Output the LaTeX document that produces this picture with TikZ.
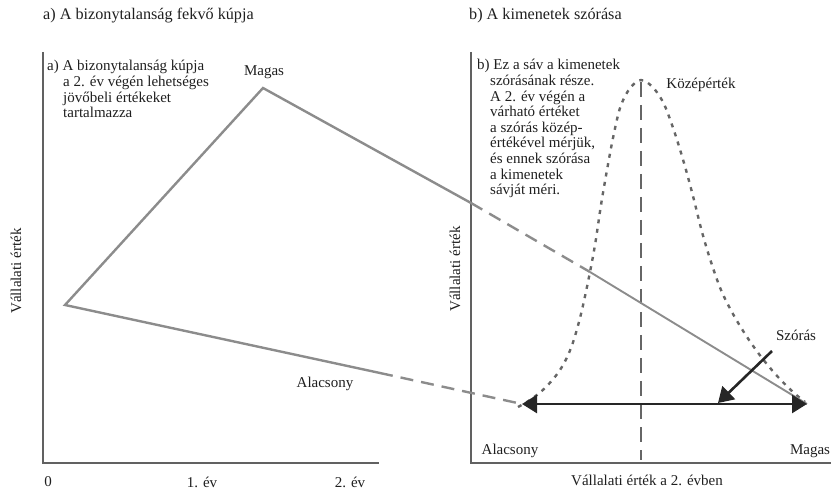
\documentclass[tikz,border=0pt]{standalone}
\usepackage{fontspec}
\setmainfont{Liberation Serif}
\usetikzlibrary{arrows.meta}
\begin{document}
\begin{tikzpicture}[x=1pt,y=-1pt,
  txt/.style={inner sep=0pt, font=\fontsize{15}{15.6}\selectfont, text=black!88},
  ttl/.style={txt, font=\fontsize{16.2}{18}\selectfont},
  axisline/.style={draw=black!62, line width=2.8pt, line join=miter},
  cone/.style={draw=black!45, line width=2.4pt},
  conethin/.style={draw=black!45, line width=1.9pt},
  conedash/.style={cone, dash pattern=on 13pt off 8pt},
  bell/.style={draw=black!60, line width=2.4pt, dash pattern=on 4pt off 5.5pt},
  meanline/.style={draw=black!60, line width=1.6pt, dash pattern=on 15pt off 8pt},
  spread/.style={draw=black!85, line width=2.6pt},
  tip/.style={-{Triangle[length=15pt,width=18pt]}},
  dtip/.style={{Triangle[length=15pt,width=18pt]}-{Triangle[length=15pt,width=18pt]}},
]
\useasboundingbox (0,0) rectangle (831,489);

% titles
\node[ttl, anchor=west] (titlea) at (43,16) {a) A bizonytalanság fekvő kúpja};
\node[ttl, anchor=west] (titleb) at (469,16) {b) A kimenetek szórása};

% axes
\coordinate (lat) at (43,52); \coordinate (lo) at (43,463); \coordinate (lr) at (379,463);
\coordinate (rat) at (471,52); \coordinate (ro) at (471,463); \coordinate (rr) at (831,463);
\draw[axisline] (lat) -- (lo) -- (lr);
\draw[axisline] (rat) -- (ro) -- (rr);

% bell curve and mean line
\draw[bell] plot[smooth, tension=0.55] coordinates {
  (518,407) (530,400) (545,388) (560,370) (571,348) (580,318) (588,282)
  (595,245) (601,205) (607,170) (613,138) (620,108) (628,91) (635,83) (641,80)
  (648,83) (656,91) (664,104) (671,122) (678,143) (686,170) (694,200)
  (702,232) (711,262) (721,290) (733,314) (747,337) (762,358) (778,377)
  (793,392) (805,402)};
\coordinate (peak) at (641,82); \coordinate (meanbot) at (641,460);
\draw[meanline] (peak) -- (meanbot);

% cone
\coordinate (apexL) at (65,305);
\coordinate (top) at (263,88);
\coordinate (cross) at (471,203);
\coordinate (cross2) at (590,272);
\coordinate (hiEnd) at (807,404);
\coordinate (lowMid) at (380,373);
\coordinate (lowEnd) at (522,404);
\draw[cone] (lowMid) -- (apexL) -- (top) -- (cross);
\draw[conedash] (cross) -- (cross2);
\draw[conethin] (cross2) -- (hiEnd);
\draw[conedash] (lowMid) -- (lowEnd);

% arrows
\draw[spread, dtip] (lowEnd) -- (hiEnd);
\coordinate (sStart) at (772,351); \coordinate (sTip) at (718,403);
\draw[spread, tip] (sStart) -- (sTip);

% inner texts
\node[txt, anchor=base west] (notea) at (47,71)
  {\begin{tabular}[t]{@{}l@{}}a) A bizonytalanság kúpja\\\hspace*{16pt}a 2. év végén lehetséges\\\hspace*{16pt}jövőbeli értékeket\\\hspace*{16pt}tartalmazza\end{tabular}};
\node[txt, anchor=base west] (noteb) at (477,70)
  {\begin{tabular}[t]{@{}l@{}}b) Ez a sáv a kimenetek\\\hspace*{13pt}szórásának része.\\\hspace*{13pt}A 2. év végén a\\\hspace*{13pt}várható értéket\\\hspace*{13pt}a szórás közép-\\\hspace*{13pt}értékével mérjük,\\\hspace*{13pt}és ennek szórása\\\hspace*{13pt}a kimenetek\\\hspace*{13pt}sávját méri.\end{tabular}};

% labels
\node[txt] (magasTop) at (264,72) {Magas};
\node[txt] (alacsL) at (325,384) {Alacsony};
\node[txt] (zero) at (48,482) {0};
\node[txt] (ev1) at (202,482) {1. év};
\node[txt] (ev2) at (350,482) {2. év};
\node[txt, rotate=90] (ylabL) at (16,271) {Vállalati érték};
\node[txt, rotate=90] (ylabR) at (455,269) {Vállalati érték};
\node[txt] (kozep) at (701,85) {Középérték};
\node[txt] (szoras) at (796,335) {Szórás};
\node[txt] (alacsR) at (510,451) {Alacsony};
\node[txt] (magasR) at (810,451) {Magas};
\node[txt] (xlab) at (647,480) {Vállalati érték a 2. évben};
\end{tikzpicture}
\end{document}
